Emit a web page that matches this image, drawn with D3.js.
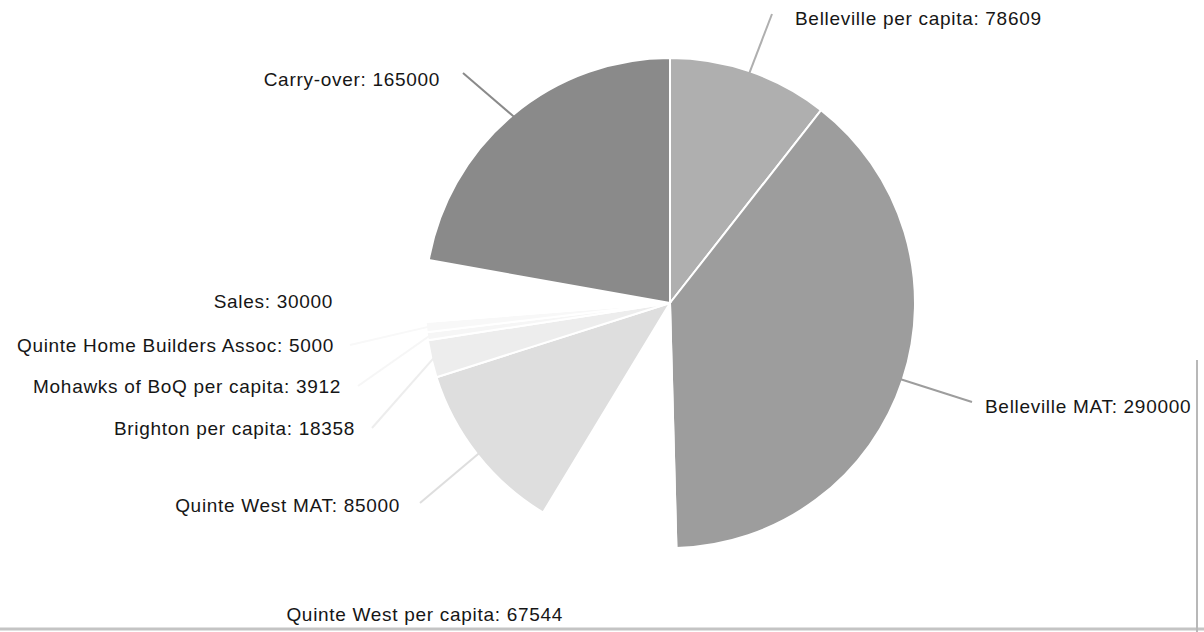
<!DOCTYPE html>
<html>
<head>
<meta charset="utf-8">
<script src="https://cdn.jsdelivr.net/npm/d3@7"></script>
<style>
  body { margin: 0; background: #fff; }
  svg { display: block; }
  .label { font-family: "Liberation Sans", Arial, sans-serif; font-size: 19px; letter-spacing: 0.7px; fill: #161616; }
</style>
</head>
<body>
<svg class="pie" width="1204" height="632"></svg>
<script>
const categories = [
  "Belleville per capita",
  "Belleville MAT",
  "Quinte West per capita",
  "Quinte West MAT",
  "Brighton per capita",
  "Mohawks of BoQ per capita",
  "Quinte Home Builders Assoc",
  "Sales",
  "Carry-over"
];
const amounts = [78609, 290000, 67544, 85000, 18358, 3912, 5000, 30000, 165000];
const shades = ["#afafaf", "#9d9d9d", "#ffffff", "#dedede", "#ededed", "#f6f6f6", "#f8f8f8", "#ffffff", "#8a8a8a"];

// where each label sits (x, baseline, anchor) and where its leader ends
const labelSpots = [
  { x: 795, y: 25, anchor: "start", end: [772, 14] },
  { x: 985, y: 413, anchor: "start", end: [972, 402] },
  { x: 563, y: 621, anchor: "end", end: [600, 600] },
  { x: 400, y: 512, anchor: "end", end: [420, 503] },
  { x: 355, y: 435, anchor: "end", end: [372, 428] },
  { x: 341, y: 393, anchor: "end", end: [358, 386] },
  { x: 334, y: 352, anchor: "end", end: [350, 345] },
  { x: 333, y: 308, anchor: "end", end: [350, 301] },
  { x: 440, y: 86, anchor: "end", end: [463, 73] }
];

const cx = 670;
const cy = 303;
const radius = 245;

const svg = d3.select("svg.pie");
const colour = d3.scaleOrdinal().domain(categories).range(shades);

const pie = d3.pie().sort(null).value((d) => d.value);
const arc = d3.arc().innerRadius(0).outerRadius(radius);

const rows = categories.map((name, i) => ({ name, value: amounts[i], spot: labelSpots[i] }));
const slices = pie(rows);

const chart = svg.append("g").attr("transform", `translate(${cx}, ${cy})`);

// leader lines first so the slices sit on top
svg
  .selectAll("line.leader")
  .data(slices)
  .enter()
  .append("line")
  .attr("class", "leader")
  .attr("x1", (d) => cx + Math.sin((d.startAngle + d.endAngle) / 2) * (radius - 2))
  .attr("y1", (d) => cy - Math.cos((d.startAngle + d.endAngle) / 2) * (radius - 2))
  .attr("x2", (d) => d.data.spot.end[0])
  .attr("y2", (d) => d.data.spot.end[1])
  .attr("stroke", (d) => colour(d.data.name))
  .attr("stroke-width", 2);

chart
  .selectAll("path")
  .data(slices)
  .enter()
  .append("path")
  .attr("d", arc)
  .attr("fill", (d) => colour(d.data.name))
  .attr("stroke", "#fff")
  .attr("stroke-width", 2);

svg
  .selectAll("text.label")
  .data(slices)
  .enter()
  .append("text")
  .attr("class", "label")
  .attr("x", (d) => d.data.spot.x)
  .attr("y", (d) => d.data.spot.y)
  .attr("text-anchor", (d) => d.data.spot.anchor)
  .text((d) => `${d.data.name}: ${d.data.value}`);

// edge of the scanned page
svg.append("line").attr("x1", 0).attr("y1", 629).attr("x2", 1204).attr("y2", 629)
  .attr("stroke", "#c4c4c4").attr("stroke-width", 3);
svg.append("line").attr("x1", 1197).attr("y1", 360).attr("x2", 1197).attr("y2", 632)
  .attr("stroke", "#b8b8b8").attr("stroke-width", 2);
</script>
</body>
</html>
